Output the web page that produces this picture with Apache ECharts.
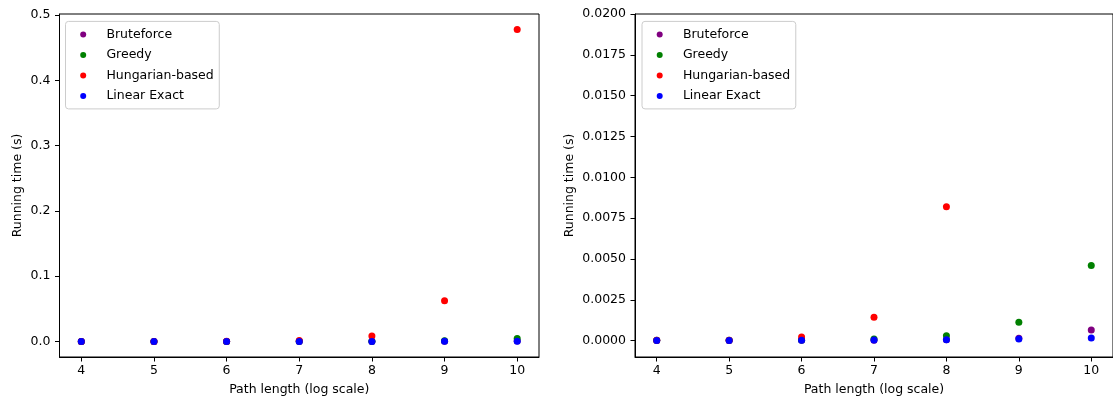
<!DOCTYPE html>
<html>
<head>
<meta charset="utf-8">
<script src="https://cdn.jsdelivr.net/npm/echarts@6/dist/echarts.min.js"></script>
<style>
html,body{margin:0;padding:0;background:#fff;}
#chart{width:1113px;height:403px;}
</style>
</head>
<body>
<div id="chart"></div>
<script>
// ---- data ----
const pathLengths = [4, 5, 6, 7, 8, 9, 10];
const seriesNames = ['Bruteforce', 'Greedy', 'Hungarian-based', 'Linear Exact'];
const bruteforce = [0.00001, 0.00001, 0.00002, 0.00003, 0.00005, 0.00015, 0.00065];
const greedy = [0.00002, 0.00002, 0.00004, 0.0001, 0.0003, 0.00112, 0.0046];
const hungarian = [0.00002, 0.00003, 0.00022, 0.00143, 0.0082, 0.0625, 0.478];
const linearExact = [0.00001, 0.00001, 0.00002, 0.00004, 0.00005, 0.0001, 0.00016];
const xTicks = [4, 5, 6, 7, 8, 9, 10];
const leftYTicks = [0, 0.1, 0.2, 0.3, 0.4, 0.5];
const rightYTicks = [0, 0.0025, 0.005, 0.0075, 0.01, 0.0125, 0.015, 0.0175, 0.02];
const colors = ['#800080', '#008000', '#ff0000', '#0000ff'];

const FONT = 'DejaVu Sans';
const FS = 12.5;
const allValues = [bruteforce, greedy, hungarian, linearExact];

function xAxis(gridIndex) {
  return {
    type: 'value', gridIndex, min: 3.7, max: 10.3,
    name: 'Path length (log scale)', nameLocation: 'middle', nameGap: 26,
    nameTextStyle: { fontFamily: FONT, fontSize: FS, color: '#000' },
    axisLine: { show: true, onZero: false, lineStyle: { color: '#000', width: 1 } },
    axisTick: { show: true, length: 4.5, customValues: xTicks, lineStyle: { color: '#000', width: 1 } },
    axisLabel: { customValues: xTicks, margin: 7, fontFamily: FONT, fontSize: FS, color: '#000' },
    splitLine: { show: false }
  };
}
function yAxis(gridIndex, min, max, ticks, digits, gap) {
  return {
    type: 'value', gridIndex, min, max,
    name: 'Running time (s)', nameLocation: 'middle', nameGap: gap,
    nameTextStyle: { fontFamily: FONT, fontSize: FS, color: '#000' },
    axisLine: { show: true, onZero: false, lineStyle: { color: '#000', width: 1 } },
    axisTick: { show: true, length: 4.5, customValues: ticks, lineStyle: { color: '#000', width: 1 } },
    axisLabel: { customValues: ticks, margin: 9, fontFamily: FONT, fontSize: FS, color: '#000',
      formatter: v => Number(v).toFixed(digits) },
    splitLine: { show: false }
  };
}
function legend(left) {
  return {
    data: seriesNames, orient: 'vertical', left, top: 21.4,
    padding: [6.5, 5.6, 6.5, 14.7], itemWidth: 6, itemHeight: 6, itemGap: 7.5, icon: 'circle',
    backgroundColor: 'rgba(255,255,255,0.8)', borderColor: '#cccccc', borderWidth: 1, borderRadius: 3,
    formatter: name => '{g|}' + name,
    textStyle: { fontFamily: FONT, fontSize: FS, color: '#000', lineHeight: 12.5,
      rich: { g: { width: 15.2, height: 12.5 } } }
  };
}

const series = [];
[0, 1].forEach(g => {
  seriesNames.forEach((name, i) => {
    series.push({
      name, type: 'scatter', xAxisIndex: g, yAxisIndex: g,
      symbol: 'circle', symbolSize: 7, clip: true,
      itemStyle: { color: colors[i], opacity: 1 },
      emphasis: { disabled: true },
      data: pathLengths.map((x, k) => [x, allValues[i][k]])
    });
  });
});

const chart = echarts.init(document.getElementById('chart'), null, { renderer: 'canvas' });
chart.setOption({
  animation: false,
  color: colors,
  grid: [
    { left: 59.5, top: 14, width: 479.5, height: 343, show: true, borderColor: '#000', borderWidth: 1, backgroundColor: 'transparent' },
    { left: 635, top: 14, width: 480, height: 343, show: true, borderColor: '#000', borderWidth: 1, backgroundColor: 'transparent' }
  ],
  xAxis: [xAxis(0), xAxis(1)],
  yAxis: [yAxis(0, -0.0239, 0.5019, leftYTicks, 1, 35), yAxis(1, -0.001, 0.02, rightYTicks, 4, 58.5)],
  legend: [legend(65.5), legend(642)],
  tooltip: { show: false },
  series
});
</script>
</body>
</html>
